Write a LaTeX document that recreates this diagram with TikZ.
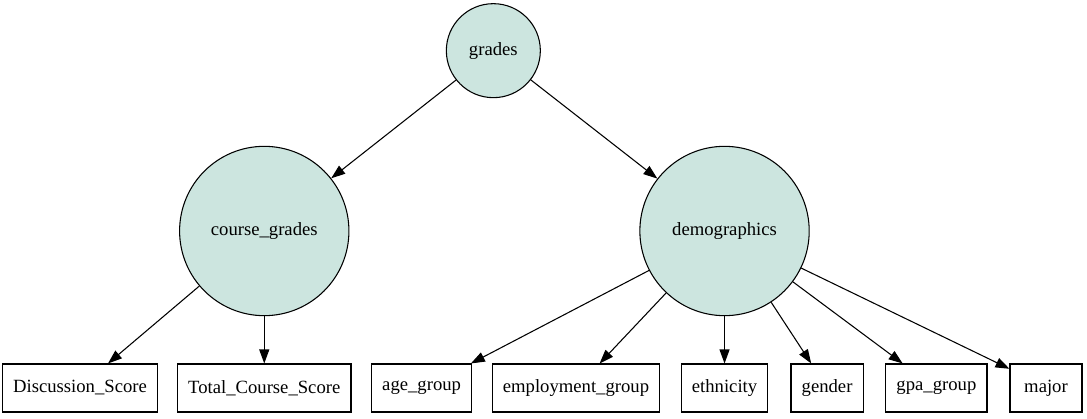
\documentclass[tikz,border=0pt]{standalone}
\usepackage{fontspec}
\setmainfont{Liberation Serif}
\usetikzlibrary{arrows.meta}
\definecolor{latentfill}{RGB}{204,229,223}

\begin{document}
\begin{tikzpicture}[x=1pt, y=1pt, -{Triangle[length=10.5pt, width=7.5pt]}, line width=0.8pt,
    every node/.style={font=\fontsize{14pt}{16pt}\selectfont},
    latent/.style={circle, draw, fill=latentfill, inner sep=0pt},
    observed/.style={rectangle, draw, minimum height=36pt, minimum width=54pt, inner xsep=8pt}]
    \useasboundingbox (0,0) rectangle (815.25,313.5);
    \node[latent, minimum size=70.5pt] (grades) at (370,275.5) {grades};
    \node[latent, minimum size=127pt] (course) at (198.2,140.25) {course\_grades};
    \node[latent, minimum size=127pt] (demo) at (543.4,140.25) {demographics};
    \node[observed] (disc) at (60,22.5) {Discussion\_Score};
    \node[observed] (total) at (198.2,22.5) {Total\_Course\_Score};
    \node[observed] (age) at (316.2,22.5) {age\_group};
    \node[observed] (emp) at (432,22.5) {employment\_group};
    \node[observed] (eth) at (543.4,22.5) {ethnicity};
    \node[observed] (gen) at (620.3,22.5) {gender};
    \node[observed] (gpa) at (702.3,22.5) {gpa\_group};
    \node[observed] (maj) at (784.5,22.5) {major};
    \draw (grades) to (course);
    \draw (grades) to (demo);
    \draw (course) to ([xshift=21pt]disc.north);
    \draw (course) to (total);
    \draw (demo) to ([xshift=-1pt]age.north east);
    \draw (demo) to ([xshift=17.7pt]emp.north);
    \draw (demo) to (eth);
    \draw (demo) to ([xshift=-11.9pt]gen.north);
    \draw (demo) to ([xshift=-25.3pt]gpa.north);
    \draw (demo) to ([yshift=-4pt]maj.north west);
\end{tikzpicture}
\end{document}
